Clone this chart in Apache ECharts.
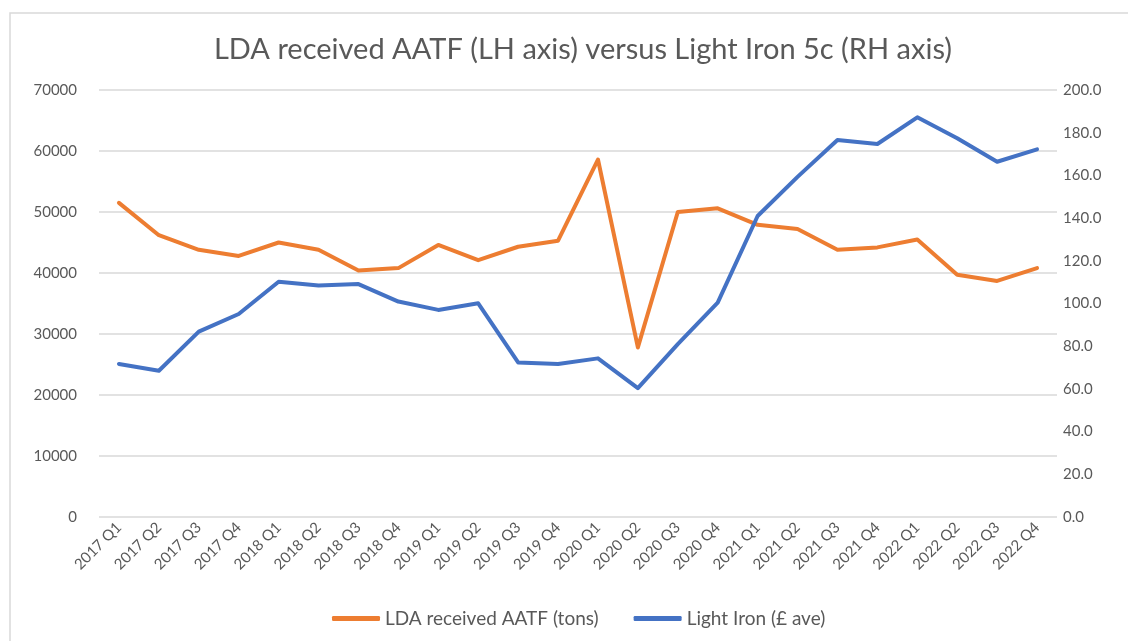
<!DOCTYPE html>
<html>
<head>
<meta charset="utf-8">
<script src="https://cdn.jsdelivr.net/npm/echarts@6/dist/echarts.min.js"></script>
<style>
  html, body { margin: 0; padding: 0; background: #fff; }
  #chart { width: 1128px; height: 641px; }
</style>
</head>
<body>
<div id="chart"></div>
<script>
var categories = [
  "2017 Q1", "2017 Q2", "2017 Q3", "2017 Q4",
  "2018 Q1", "2018 Q2", "2018 Q3", "2018 Q4",
  "2019 Q1", "2019 Q2", "2019 Q3", "2019 Q4",
  "2020 Q1", "2020 Q2", "2020 Q3", "2020 Q4",
  "2021 Q1", "2021 Q2", "2021 Q3", "2021 Q4",
  "2022 Q1", "2022 Q2", "2022 Q3", "2022 Q4"
];
// LDA received AATF (tons), left axis
var ldaTons = [
  51500, 46200, 43800, 42800,
  45000, 43800, 40400, 40800,
  44600, 42100, 44300, 45300,
  58600, 27800, 50000, 50600,
  47900, 47200, 43800, 44200,
  45500, 39700, 38700, 40800
];
// Light Iron (£ ave), right axis
var lightIron = [
  71.7, 68.5, 86.8, 95.1,
  110.2, 108.4, 109.1, 100.9,
  97.0, 100.1, 72.4, 71.7,
  74.3, 60.4, 81.0, 100.4,
  141.0, 159.3, 176.6, 174.7,
  187.2, 177.4, 166.4, 172.2
];

var textColor = "#595959";
var fontName = "Lato";

var myChart = echarts.init(document.getElementById("chart"), null, { renderer: "canvas" });

var option = {
  backgroundColor: "#fff",
  animation: false,
  textStyle: { fontFamily: fontName },
  graphic: [
    {
      type: "rect",
      shape: { x: 10, y: 13, width: 1200, height: 700 },
      style: { fill: "none", stroke: "#d9d9d9", lineWidth: 1.5 },
      silent: true
    }
  ],
  title: {
    text: "LDA received AATF (LH axis) versus Light Iron 5c (RH axis)",
    left: 578,
    textAlign: "center",
    top: 30,
    textStyle: { fontFamily: fontName, fontSize: 29, fontWeight: "normal", color: textColor }
  },
  legend: {
    bottom: 8,
    left: 327,
    icon: "roundRect",
    itemWidth: 48,
    itemHeight: 5,
    itemGap: 35,
    textStyle: { fontFamily: fontName, fontSize: 19, color: textColor },
    data: ["LDA received AATF (tons)", "Light Iron (£ ave)"]
  },
  grid: {
    left: 99,
    right: 71,
    top: 90,
    bottom: 124
  },
  xAxis: [
    {
      type: "category",
      data: categories,
      axisTick: { show: false },
      axisLine: { show: false },
      axisLabel: {
        interval: 0,
        rotate: 45,
        fontFamily: fontName,
        fontSize: 15,
        color: textColor,
        margin: 8
      }
    }
  ],
  yAxis: [
    {
      type: "value",
      min: 0,
      max: 70000,
      interval: 10000,
      axisLine: { show: false },
      axisTick: { show: false },
      splitLine: { lineStyle: { color: "#d9d9d9", width: 1.5 } },
      axisLabel: {
        fontFamily: fontName,
        fontSize: 15,
        color: textColor,
        margin: 22,
        formatter: function (v) { return String(v); }
      }
    },
    {
      type: "value",
      min: 0,
      max: 200,
      interval: 20,
      position: "right",
      axisLine: { show: false },
      axisTick: { show: false },
      splitLine: { show: false },
      axisLabel: {
        fontFamily: fontName,
        fontSize: 15,
        color: textColor,
        margin: 6,
        formatter: function (v) { return v.toFixed(1); }
      }
    }
  ],
  series: [
    {
      name: "LDA received AATF (tons)",
      type: "line",
      yAxisIndex: 0,
      data: ldaTons,
      symbol: "none",
      color: "#ED7D31",
      lineStyle: { width: 4, cap: "round", join: "round" }
    },
    {
      name: "Light Iron (£ ave)",
      type: "line",
      yAxisIndex: 1,
      data: lightIron,
      symbol: "none",
      color: "#4472C4",
      lineStyle: { width: 4, cap: "round", join: "round" }
    }
  ]
};

myChart.setOption(option);
</script>
</body>
</html>
